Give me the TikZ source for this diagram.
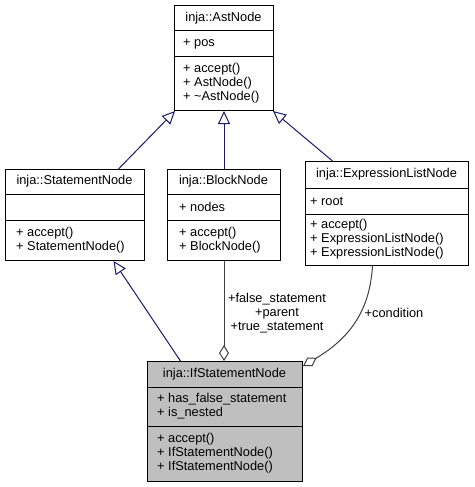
\documentclass[tikz,border=0pt]{standalone}
\usepackage{fontspec}
\setmainfont{Liberation Sans}
\usetikzlibrary{arrows.meta,calc}
\definecolor{inhblue}{RGB}{25,25,112}
\definecolor{aggray}{RGB}{64,64,64}
\definecolor{boxgray}{RGB}{191,191,191}
\begin{document}
\begin{tikzpicture}[x=1pt,y=1pt,
  cls/.style={draw=black, line width=1pt, inner sep=0pt, anchor=north west},
  txt/.style={anchor=west, inner sep=0pt, align=left, font=\fontsize{12.8}{14}\selectfont},
  ttl/.style={inner sep=0pt, font=\fontsize{12.8}{14}\selectfont},
  lbl/.style={inner sep=0pt, align=center, font=\fontsize{12.8}{14}\selectfont},
  sep/.style={draw=black, line width=1pt},
  inherit/.style={draw=inhblue, line width=1pt, -{Triangle[open, length=13pt, width=12pt, fill=white]}},
  agg/.style={draw=aggray, line width=1pt, -{Diamond[open, length=16pt, width=10pt, fill=white]}}
]
\useasboundingbox (0,0) rectangle (474,-487);

% AstNode
\node[cls, minimum width=99pt, minimum height=105pt] (ast) at (174,-5) {};
\draw[sep] (174,-31) -- (273,-31);
\draw[sep] (174,-57) -- (273,-57);
\node[ttl] (astt) at (223.5,-18) {inja::AstNode};
\node[txt] (asta) at (183,-44) {+ pos};
\node[txt] (astm) at (183,-83.5) {+ accept()\\+ AstNode()\\+ \textasciitilde AstNode()};

% StatementNode
\node[cls, minimum width=139pt, minimum height=91pt] (sn) at (5,-169) {};
\draw[sep] (5,-194) -- (144,-194);
\draw[sep] (5,-220) -- (144,-220);
\node[ttl] (snt) at (74.5,-181.5) {inja::StatementNode};
\node[txt] (snm) at (16,-240) {+ accept()\\+ StatementNode()};

% BlockNode
\node[cls, minimum width=113pt, minimum height=91pt] (blk) at (167,-169) {};
\draw[sep] (167,-194) -- (280,-194);
\draw[sep] (167,-220) -- (280,-220);
\node[ttl] (blkt) at (223.5,-181.5) {inja::BlockNode};
\node[txt] (blka) at (179,-207) {+ nodes};
\node[txt] (blkm) at (179,-240) {+ accept()\\+ BlockNode()};

% ExpressionListNode
\node[cls, minimum width=163pt, minimum height=104pt] (el) at (305,-161) {};
\draw[sep] (305,-188) -- (468,-188);
\draw[sep] (305,-214) -- (468,-214);
\node[ttl] (elt) at (386.5,-174.5) {inja::ExpressionListNode};
\node[txt] (ela) at (310,-201) {+ root};
\node[txt] (elm) at (310,-239.5) {+ accept()\\+ ExpressionListNode()\\+ ExpressionListNode()};

% IfStatementNode
\node[cls, fill=boxgray, minimum width=155pt, minimum height=120pt] (ifs) at (147,-361) {};
\draw[sep] (147,-387) -- (302,-387);
\draw[sep] (147,-426) -- (302,-426);
\node[ttl] (ifst) at (224.5,-374) {inja::IfStatementNode};
\node[txt] (ifsa) at (157,-406.5) {+ has\_false\_statement\\+ is\_nested};
\node[txt] (ifsm) at (157,-453.5) {+ accept()\\+ IfStatementNode()\\+ IfStatementNode()};

% inheritance
\draw[inherit] ([xshift=43.5pt]sn.north) -- ([xshift=1pt]ast.south west);
\draw[inherit] (blk.north) -- (blk.north |- ast.south);
\draw[inherit] ([xshift=-54.5pt]el.north) -- ([xshift=-1pt]ast.south east);
\draw[inherit] ([xshift=-44.5pt]ifs.north) -- ([xshift=38.5pt]sn.south);

% aggregation
\draw[agg] (blk.south) -- (blk.south |- ifs.north);
\draw[agg] ([xshift=-14.5pt]el.south) .. controls (370,-305) and (355,-335) .. ([yshift=-5pt]ifs.north east);

\node[lbl] (l1) at (277,-313) {+false\_statement\\+parent\\+true\_statement};
\node[lbl] (l2) at (394,-313) {+condition};
\end{tikzpicture}
\end{document}
